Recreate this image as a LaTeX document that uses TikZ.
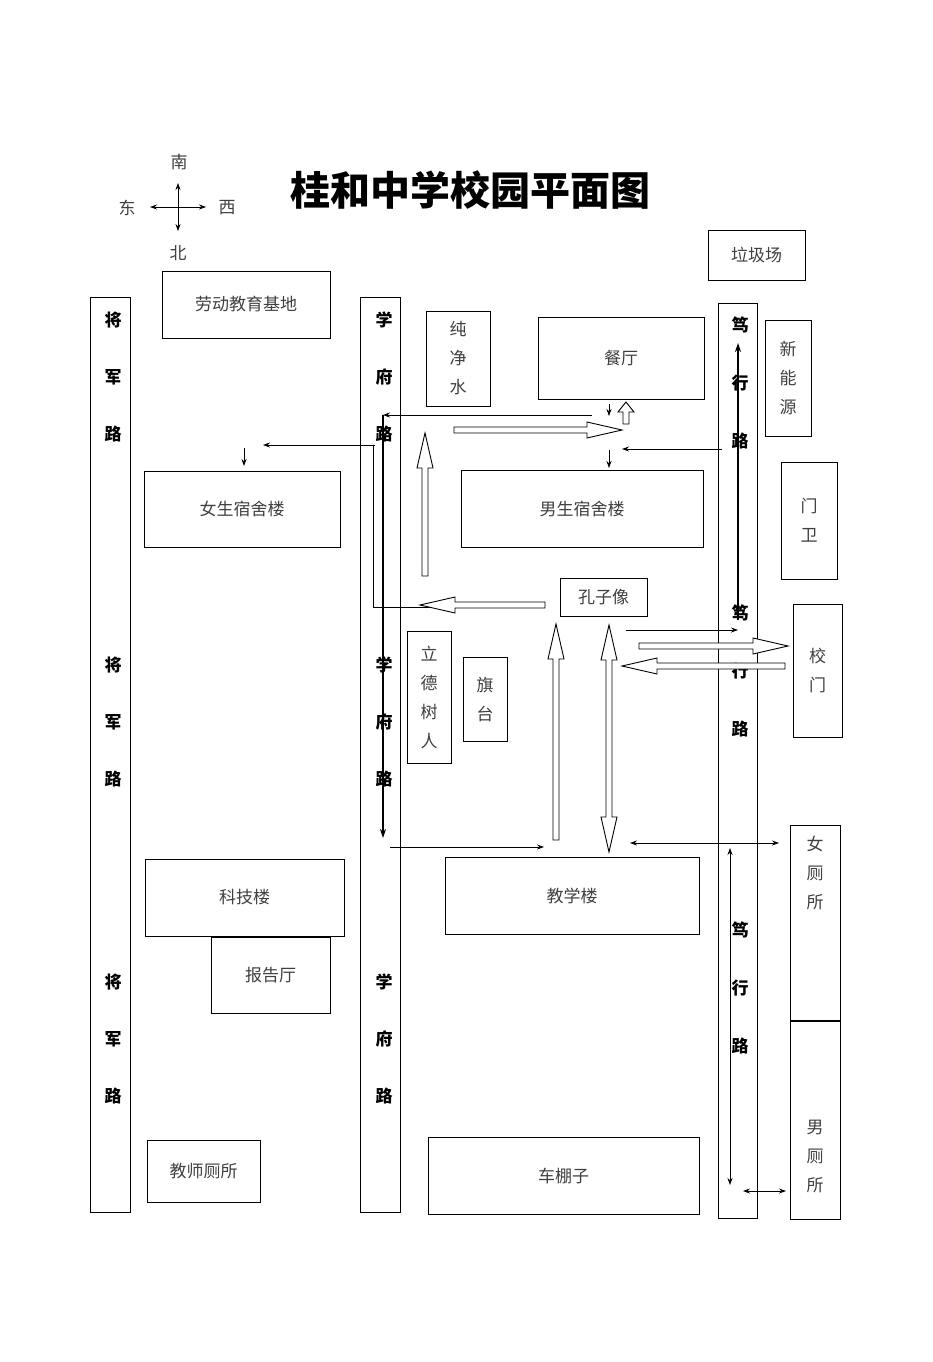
\documentclass[tikz,border=0pt]{standalone}
\usepackage{fontspec}
\setmainfont{Noto Sans CJK SC}
\usetikzlibrary{arrows.meta}
\tikzset{
  box/.style={draw,line width=1pt,fill=white},
  lbl/.style={font=\fontsize{17}{29}\selectfont,text=black!75,align=center},
  road/.style={draw,line width=1pt},
  rl/.style={font=\fontsize{17}{20}\selectfont\bfseries},
  thin/.style={line width=0.8pt,-{Stealth[length=7pt,width=5pt]}},
  thind/.style={line width=0.8pt,{Stealth[length=7pt,width=5pt]}-{Stealth[length=7pt,width=5pt]}},
  thick/.style={line width=2.2pt,-{Stealth[length=9pt,width=6pt]}},
  hol/.style={draw,line width=0.9pt,fill=white}
}
\newcommand\hollow[5][35]{\begin{scope}[shift={(#2,#3)},rotate=#4]
\path[hol] (0,-3)--(#5-#1,-3)--(#5-#1,-8)--(#5,0)--(#5-#1,8)--(#5-#1,3)--(0,3)--cycle;\end{scope}}
\begin{document}
\begin{tikzpicture}[x=1pt,y=-1pt]
\useasboundingbox[fill=white] (0,0) rectangle (932,1362);
% compass
\coordinate (cE) at (150,207); \coordinate (cW) at (206,207);
\coordinate (cS) at (178,183); \coordinate (cN) at (178,231);
\draw[thind] (cE)--(cW); \draw[thind] (cS)--(cN);
\node[lbl] (s) at (179,162) {南}; \node[lbl] (n) at (178,253) {北};
\node[lbl] (e) at (127,208) {东}; \node[lbl] (w) at (227,208) {西};
\node[font=\fontsize{40}{44}\selectfont\bfseries] (title) at (470,190) {桂和中学校园平面图};
% roads
\path[road] (90,297) rectangle (130,1212);
\path[road] (360,297) rectangle (400,1212);
\path[road] (718,303) rectangle (757,1218);
\foreach \y/\t in {320/将,377/军,434/路,665/将,722/军,779/路,982/将,1039/军,1096/路}
  \node[rl] at (113,\y) {\t};
\foreach \y/\t in {320/学,377/府,434/路,665/学,722/府,779/路,982/学,1039/府,1096/路}
  \node[rl] at (384,\y) {\t};
\foreach \y/\t in {325/笃,383/行,441/路,613/笃,671/行,729/路,930/笃,988/行,1046/路}
  \node[rl] at (740,\y) {\t};
% boxes
\newcommand\bx[6]{\path[box] (#2,#3) rectangle (#4,#5); \node[lbl] (#1) at ({(#2+#4)/2},{(#3+#5)/2}) {#6};}
\bx{ljc}{708}{230}{805}{280}{垃圾场}
\bx{ldjd}{162}{271}{330}{338}{劳动教育基地}
\bx{cjs}{426}{311}{490}{406}{纯\\净\\水}
\bx{ct}{538}{317}{704}{399}{餐厅}
\bx{xny}{765}{320}{811}{436}{新\\能\\源}
\bx{mw}{781}{462}{837}{579}{门\\卫}
\bx{nvss}{144}{471}{340}{547}{女生宿舍楼}
\bx{nss}{461}{470}{703}{547}{男生宿舍楼}
\bx{kzx}{560}{578}{647}{616}{孔子像}
\bx{xm}{793}{604}{842}{737}{校\\门}
\bx{ldsr}{407}{631}{451}{763}{立\\德\\树\\人}
\bx{qt}{463}{657}{507}{741}{旗\\台}
\bx{kjl}{145}{859}{344}{936}{科技楼}
\bx{bgt}{211}{937}{330}{1013}{报告厅}
\bx{jxl}{445}{857}{699}{934}{教学楼}
\path[box] (790,825) rectangle (840,1020); \node[lbl,anchor=north] (nc) at (815,833) {女\\厕\\所};
\path[box] (790,1021) rectangle (840,1219); \node[lbl] (mc) at (815,1156) {男\\厕\\所};
\bx{jscs}{147}{1140}{260}{1202}{教师厕所}
\bx{cpz}{428}{1137}{699}{1214}{车棚子}
% connectors
\coordinate (a1) at (592,415); \coordinate (a2) at (383,415);
\draw[thin] (a1)--(a2);
\draw[thin] (609,404)--(609,416);
\draw[thin] (722,449)--(622,449);
\draw[thin] (609,450)--(609,468);
\draw[line width=0.8pt] (483,607)--(373,607)--(373,445);
\draw[thin] (375,445)--(263,445);
\draw[thin] (244,448)--(244,466);
\draw[thick] (383,415)--(383,838);
\draw[thick] (738,620)--(738,343);
\hollow[10]{626}{424}{90}{22}
\hollow{454}{430}{0}{168}
\hollow{425}{576}{90}{143}
\hollow{545}{605}{180}{125}
\hollow{639}{646}{0}{149}
\hollow{785}{666}{180}{163}
\hollow{556}{840}{90}{216}
\path[hol] (606,852-35)--(601,852-35)--(609,852)--(617,852-35)--(612,852-35)--(612,625+35)--(617,625+35)--(609,625)--(601,625+35)--(606,625+35)--cycle;
\draw[thin] (626,630)--(738,630);
\draw[thin] (390,847)--(544,847);
\draw[thind] (630,843)--(779,843);
\draw[thind] (730,848)--(730,1185);
\draw[thind] (743,1191)--(786,1191);
\end{tikzpicture}
\end{document}
